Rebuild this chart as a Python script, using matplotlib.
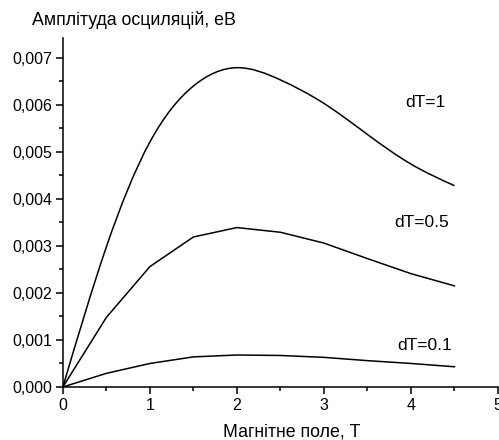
import matplotlib
matplotlib.use("Agg")
import numpy as np
import matplotlib.pyplot as plt
from matplotlib.ticker import MultipleLocator, FuncFormatter
from matplotlib.path import Path
from matplotlib.patches import PathPatch

plt.rcParams['font.family'] = ['Liberation Sans', 'DejaVu Sans']

# Data
field = [0, 0.5, 1.0, 1.5, 2.0, 2.5, 3.0, 3.5, 4.0, 4.5]
amp_dT1 = [0, 0.00298, 0.00521, 0.00640, 0.00679, 0.00653, 0.00603, 0.00537,
           0.00474, 0.00428]
amp_dT05 = [0, 0.00148, 0.00256, 0.00319, 0.00339, 0.00329, 0.00306, 0.00273,
            0.00241, 0.00215]
amp_dT01 = [0, 0.00029, 0.00050, 0.00064, 0.00068, 0.00067, 0.00063, 0.00056,
            0.00050, 0.00043]

labels = ["dT=1", "dT=0.5", "dT=0.1"]
label_x = [4.16, 4.12, 4.16]
label_y = [0.00604, 0.00350, 0.00089]


def spline_path(xs, ys):
    """Natural cubic spline through the data points, drawn as Bezier segments."""
    x = np.asarray(xs, float)
    y = np.asarray(ys, float)
    n = len(x)
    h = np.diff(x)
    A = np.zeros((n, n))
    b = np.zeros(n)
    A[0, 0] = A[-1, -1] = 1.0
    for i in range(1, n - 1):
        A[i, i - 1] = h[i - 1]
        A[i, i] = 2 * (h[i - 1] + h[i])
        A[i, i + 1] = h[i]
        b[i] = 6 * ((y[i + 1] - y[i]) / h[i] - (y[i] - y[i - 1]) / h[i - 1])
    M = np.linalg.solve(A, b)
    verts = [(x[0], y[0])]
    codes = [Path.MOVETO]
    for i in range(n - 1):
        s = (y[i + 1] - y[i]) / h[i]
        d0 = s - h[i] * (2 * M[i] + M[i + 1]) / 6
        d1 = s + h[i] * (M[i] + 2 * M[i + 1]) / 6
        c1 = (x[i] + h[i] / 3, y[i] + d0 * h[i] / 3)
        c2 = (x[i + 1] - h[i] / 3, y[i + 1] - d1 * h[i] / 3)
        verts += [c1, c2, (x[i + 1], y[i + 1])]
        codes += [Path.CURVE4] * 3
    return Path(verts, codes)


fig = plt.figure(figsize=(4.99, 4.40), dpi=100)
ax = fig.add_axes([0.126, 0.1205, 0.872, 0.793])

lw = 1.1
ax.add_patch(PathPatch(spline_path(field, amp_dT1), facecolor='none',
                       edgecolor='black', lw=lw))
ax.plot(field, amp_dT05, color='black', lw=lw)
ax.plot(field, amp_dT01, color='black', lw=lw)

for t, x, y in zip(labels, label_x, label_y):
    ax.text(x, y, t, ha='center', va='center', fontsize=12.5)

ax.set_xlim(0, 5)
ax.set_ylim(0, 0.00742)
ax.xaxis.set_major_locator(MultipleLocator(1))
ax.xaxis.set_minor_locator(MultipleLocator(0.5))
ax.yaxis.set_major_locator(MultipleLocator(0.001))
ax.yaxis.set_minor_locator(MultipleLocator(0.0005))
ax.yaxis.set_major_formatter(FuncFormatter(lambda v, p: f"{v:.3f}".replace('.', ',')))
ax.xaxis.set_major_formatter(FuncFormatter(lambda v, p: f"{v:.0f}"))

for s in ['top', 'right']:
    ax.spines[s].set_visible(False)
for s in ['left', 'bottom']:
    ax.spines[s].set_linewidth(1.1)

ax.tick_params(which='major', direction='out', length=4.8, width=1.1, labelsize=11.5)
ax.tick_params(which='minor', direction='out', length=2.9, width=1.1)
ax.tick_params(axis='x', pad=3)
ax.tick_params(axis='y', pad=3)

fig.text(291.5 / 499, 1 - 436 / 440, "Магнітне поле, Т", ha='center', va='baseline', fontsize=12.8)
fig.text(32 / 499, 1 - 25 / 440, "Амплітуда осциляцій, еВ", ha='left', va='baseline', fontsize=12.8)

fig.savefig("out.png", dpi=100)
